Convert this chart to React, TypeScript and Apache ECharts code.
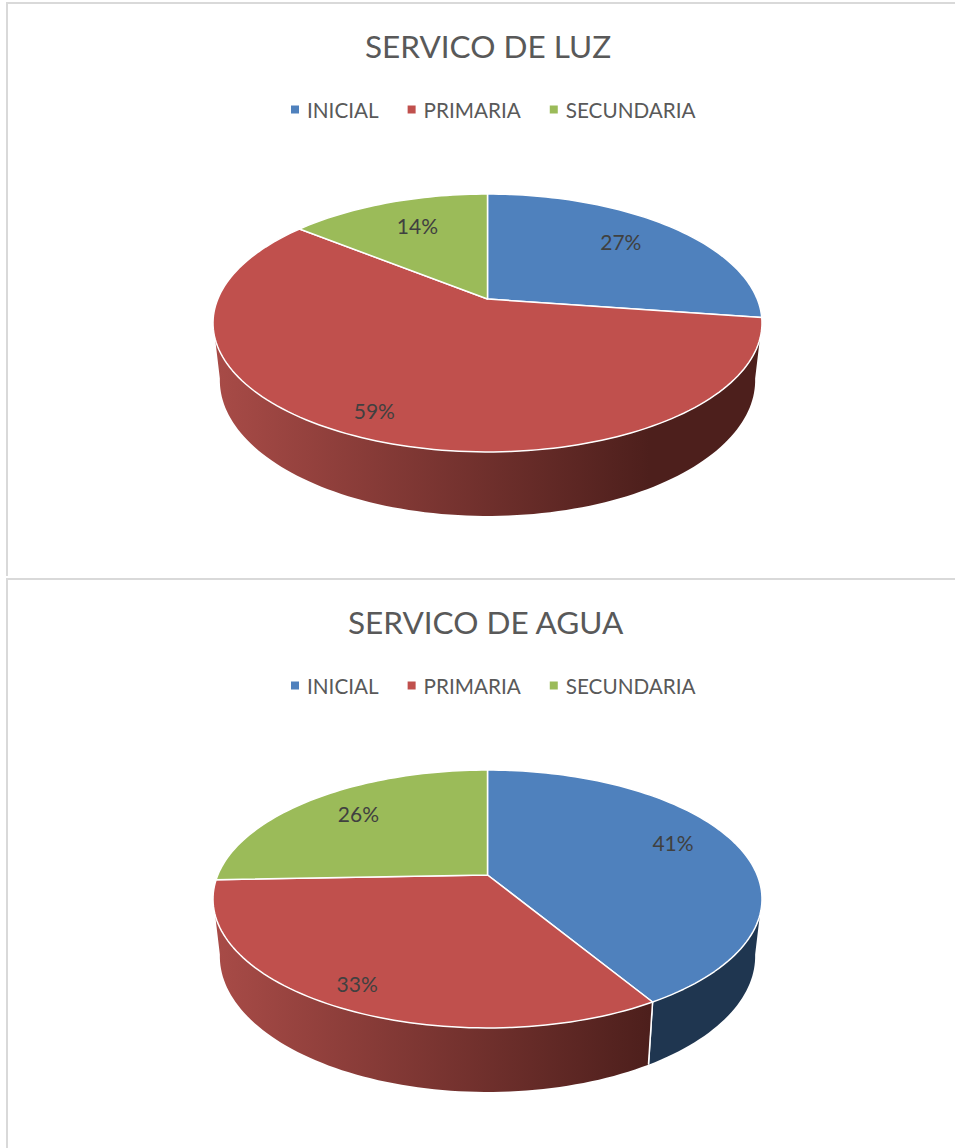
import React, { useEffect, useRef } from "react";
import * as echarts from "echarts";

const categories = ["INICIAL", "PRIMARIA", "SECUNDARIA"];
const luzValues = [27.3, 58.5, 14.2];
const aguaValues = [41.4, 33.0, 25.6];
const luzTitle = "SERVICO DE LUZ";
const aguaTitle = "SERVICO DE AGUA";

const topColors = ["#4f81bd", "#c0504d", "#9bbb59"];
const wallStops = [
  ["#1f3650", "#1f3650"],
  ["#a84b47", "#4d1f1c"],
  ["#5f7436", "#3e4c24"],
];

const FONT = "Lato";
const APEX_X = 487.5;
const TOP = { apexY: 299, b: 269.7, a: 124.5, k: 0.186 };
const BASE = { apexY: 355, b: 263, a: 131, k: 0.186 };
const WALL_FROM = 100;
const WALL_TO = 260;

const project = (f: typeof TOP, deg: number, r = 1) => {
  const t = (deg * Math.PI) / 180;
  const u = r * Math.sin(t);
  const v = r * Math.cos(t);
  const d = 1 + f.k * v;
  return [APEX_X + (f.b * u) / d, f.apexY - (f.a * v) / d];
};

const arc = (f: typeof TOP, from: number, to: number) => {
  const pts: number[][] = [];
  const n = Math.max(2, Math.ceil((to - from) / 1.5));
  for (let i = 0; i <= n; i++) pts.push(project(f, from + ((to - from) * i) / n));
  return pts;
};

function buildOption(title: string, titleLeft: number, values: number[], labelPlace: number[][]) {
  const total = values.reduce((s, v) => s + v, 0);
  let running = 0;
  const series = categories.map((name, i) => {
    const start = (running / total) * 360;
    running += values[i];
    const end = (running / total) * 360;
    return {
      type: "custom",
      name,
      coordinateSystem: "none",
      silent: true,
      itemStyle: { color: topColors[i] },
      data: [[start, end, values[i]]],
      renderItem: (_p: any, api: any) => {
        const a0 = api.value(0) as number;
        const a1 = api.value(1) as number;
        const val = api.value(2) as number;
        const children: any[] = [];
        const w0 = Math.max(a0, WALL_FROM);
        const w1 = Math.min(a1, WALL_TO);
        if (w1 > w0) {
          const fill = new echarts.graphic.LinearGradient(
            215, 0, 650, 0,
            [
              { offset: 0, color: wallStops[i][0] },
              { offset: 1, color: wallStops[i][1] },
            ],
            true
          );
          children.push({
            type: "polygon",
            shape: { points: [...arc(TOP, w0, w1), ...arc(BASE, w0, w1).reverse()] },
            style: { fill },
          });
          [a0, a1].forEach((edge) => {
            if (edge > WALL_FROM && edge < WALL_TO) {
              const [x1, y1] = project(TOP, edge);
              const [x2, y2] = project(BASE, edge);
              children.push({
                type: "line",
                shape: { x1, y1, x2, y2 },
                style: { stroke: "#ffffff", lineWidth: 1.5 },
              });
            }
          });
        }
        children.push({
          type: "polygon",
          shape: { points: [project(TOP, a0, 0), ...arc(TOP, a0, a1)] },
          style: { fill: topColors[i], stroke: "#ffffff", lineWidth: 1.5, lineJoin: "round" },
        });
        const [r, dy] = labelPlace[i];
        const [lx, ly] = project(TOP, (a0 + a1) / 2, r);
        children.push({
          type: "text",
          x: lx,
          y: ly + dy,
          style: {
            text: `${Math.round(val)}%`,
            fill: "#404040",
            font: `21px ${FONT}`,
            align: "center",
            verticalAlign: "middle",
          },
        });
        return { type: "group", children };
      },
    };
  });
  return {
    animation: false,
    backgroundColor: "#ffffff",
    title: {
      text: title,
      left: titleLeft,
      top: 30,
      padding: 0,
      textStyle: { color: "#595959", fontFamily: FONT, fontSize: 31.5, fontWeight: "normal" },
    },
    legend: {
      data: categories,
      left: 291,
      top: 99,
      padding: 0,
      icon: "rect",
      itemWidth: 8,
      itemHeight: 8,
      itemGap: 29,
      selectedMode: false,
      textStyle: { color: "#595959", fontFamily: FONT, fontSize: 20.7, padding: [0, 0, 0, 3] },
    },
    graphic: [
      { type: "rect", silent: true, shape: { x: 6, y: 2, width: 949, height: 2 }, style: { fill: "#d9d9d9" } },
      { type: "rect", silent: true, shape: { x: 6, y: 2, width: 2, height: 574 }, style: { fill: "#d9d9d9" } },
    ],
    series,
  };
}

const Pie3D: React.FC<{ option: any; top: number; height: number }> = ({ option, top, height }) => {
  const ref = useRef<HTMLDivElement>(null);
  useEffect(() => {
    const chart = echarts.init(ref.current!, undefined, { renderer: "svg" });
    chart.setOption(option);
    return () => chart.dispose();
  }, [option]);
  return <div ref={ref} style={{ position: "absolute", left: 0, top, width: 955, height }} />;
};

const luzOption = buildOption(luzTitle, 365, luzValues, [
  [0.71, -4],
  [0.89, -8],
  [0.67, -6],
]);
const aguaOption = buildOption(aguaTitle, 348, aguaValues, [
  [0.74, -9],
  [0.87, -3],
  [0.727, -4],
]);

export default function App() {
  return (
    <div style={{ position: "absolute", left: 0, top: 0, width: 955, height: 1148, overflow: "hidden", background: "#fff" }}>
      <Pie3D option={luzOption} top={0} height={576} />
      <Pie3D option={aguaOption} top={576} height={572} />
    </div>
  );
}
